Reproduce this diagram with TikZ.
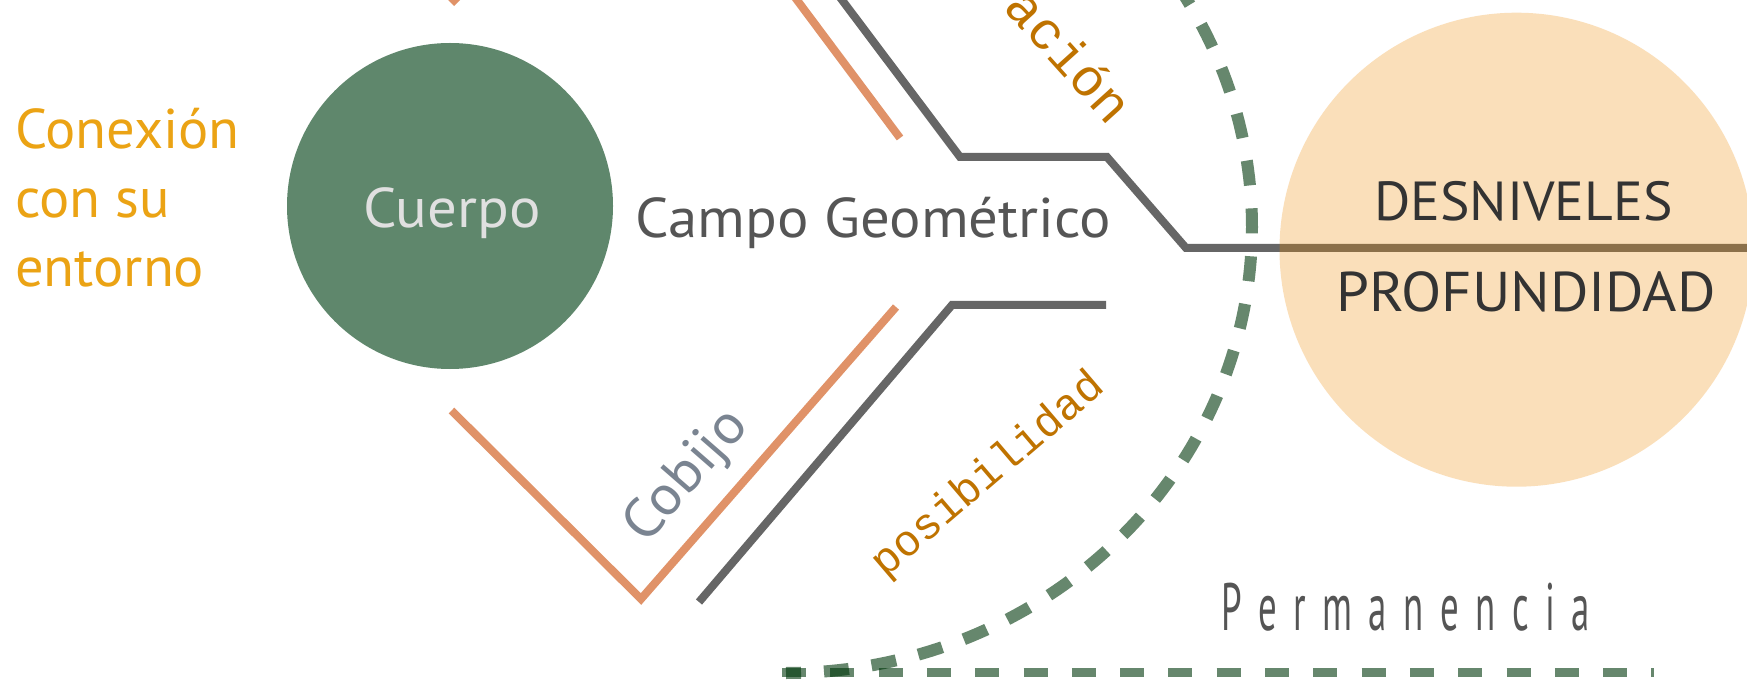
\documentclass[tikz,border=0pt]{standalone}
\usepackage{fontspec}
\setmainfont{PT Sans}[FakeStretch=1.05]
\newfontfamily\monofont{Liberation Mono}
\newfontfamily\condfont[FakeStretch=0.55]{PT Sans}
\newfontfamily\capsfont[FakeStretch=1.01]{PT Sans}
\definecolor{cgreen}{RGB}{95,135,108}
\definecolor{salmon}{RGB}{224,146,104}
\definecolor{lgray}{RGB}{102,102,102}
\definecolor{txtgray}{RGB}{85,85,85}
\definecolor{conex}{RGB}{235,163,20}
\definecolor{accent}{RGB}{191,115,0}
\definecolor{cobijoc}{RGB}{122,132,145}
\definecolor{darktxt}{RGB}{51,51,51}
\definecolor{peachbase}{RGB}{240,139,0}
\definecolor{dashgreen}{RGB}{0,55,12}
\newcommand{\lsp}{\kern16.5pt}
\tikzset{
  lbl/.style={inner sep=0pt, font=\fontsize{56}{66}\selectfont},
  monolbl/.style={inner sep=0pt, text=accent},
  orangeline/.style={draw=salmon, line width=8pt},
  grayline/.style={draw=lgray, line width=8pt},
  greendash/.style={draw=dashgreen, draw opacity=0.6},
}
\begin{document}
\begin{tikzpicture}[x=1pt,y=-1pt]
\useasboundingbox (0,0) rectangle (1747,700);
\fill[white] (0,0) rectangle (1747,700);
\clip (0,0) rectangle (1747,700);

% coordinates of the line paths
\coordinate (oa1) at (451.2,3.2);
\coordinate (oa2) at (531.2,-76.8);
\coordinate (ob1) at (900,138);
\coordinate (ob2) at (785,-16);
\coordinate (ga0) at (830,-16);
\coordinate (ga1) at (960,157);
\coordinate (ga2) at (1107,157);
\coordinate (ga3) at (1186,248);
\coordinate (ga4) at (1760,248);
\coordinate (oc1) at (451.5,410.5);
\coordinate (oc2) at (641,599);
\coordinate (oc3) at (896,307);
\coordinate (gb1) at (699,602);
\coordinate (gb2) at (952,305);
\coordinate (gb3) at (1106,305);
\coordinate (pl1) at (782,672.5);
\coordinate (pl2) at (1654,672.5);

% lines
\draw[orangeline] (oa1) -- (oa2);
\draw[orangeline] (ob1) -- (ob2);
\draw[grayline] (ga0) -- (ga1) -- (ga2) -- (ga3) -- (ga4);
\draw[orangeline] (oc1) -- (oc2) -- (oc3);
\draw[grayline] (gb1) -- (gb2) -- (gb3);

% green dashed arc and line
\draw[greendash, line width=12pt, dash pattern=on 25pt off 23pt, dash phase=10pt]
  plot[domain=90:-36, samples=120] ({786+466*cos(\x)}, {227+446*sin(\x)});
\draw[greendash, line width=8.5pt, dash pattern=on 24pt off 24.3pt] (pl1) -- (pl2);

% circles
\node[circle, fill=cgreen, minimum size=326pt, inner sep=0pt] (cuerpo) at (450,206) {};
\node[circle, fill=peachbase, fill opacity=0.27, minimum size=474pt, inner sep=0pt] (desn) at (1516.5,249.7) {};

% texts
\node[lbl, anchor=base, text={rgb,255:red,224;green,224;blue,224}] (cuerpotxt) at (452,228) {Cuerpo};
\node[lbl, anchor=base west, text=conex, font=\capsfont\fontsize{56}{66}\selectfont] (con1) at (15,149) {Conexión};
\node[lbl, anchor=base west, text=conex, font=\capsfont\fontsize{56}{66}\selectfont] (con2) at (15,218) {con su};
\node[lbl, anchor=base west, text=conex, font=\capsfont\fontsize{56}{66}\selectfont] (con3) at (15,287) {entorno};
\node[lbl, anchor=base, text=txtgray] (campo) at (873.5,237.3) {Campo Geométrico};
\node[lbl, anchor=base, text=darktxt, font=\capsfont\fontsize{55}{66}\selectfont] (desniveles) at (1523.5,220.7) {DESNIVELES};
\node[lbl, anchor=base, text=darktxt] (profundidad) at (1526,311.7) {PROFUNDIDAD};
\node[lbl, anchor=base, text=cobijoc, rotate=49] (cobijo) at (698,486) {Cobijo};
\node[monolbl, anchor=base, rotate=40.5, font=\monofont\fontsize{44}{50}\selectfont] (posib) at (996,484) {posibilidad};
\node[monolbl, anchor=base, rotate=-48, font=\monofont\fontsize{53}{60}\selectfont] (acion) at (1056,68) {ación};
\node[inner sep=0pt, anchor=base west, text=txtgray, font=\condfont\fontsize{67}{70}\selectfont] (perm) at (1221,630)
  {P\lsp e\lsp r\lsp m\lsp a\lsp n\lsp e\lsp n\lsp c\lsp i\lsp a};
\end{tikzpicture}
\end{document}
